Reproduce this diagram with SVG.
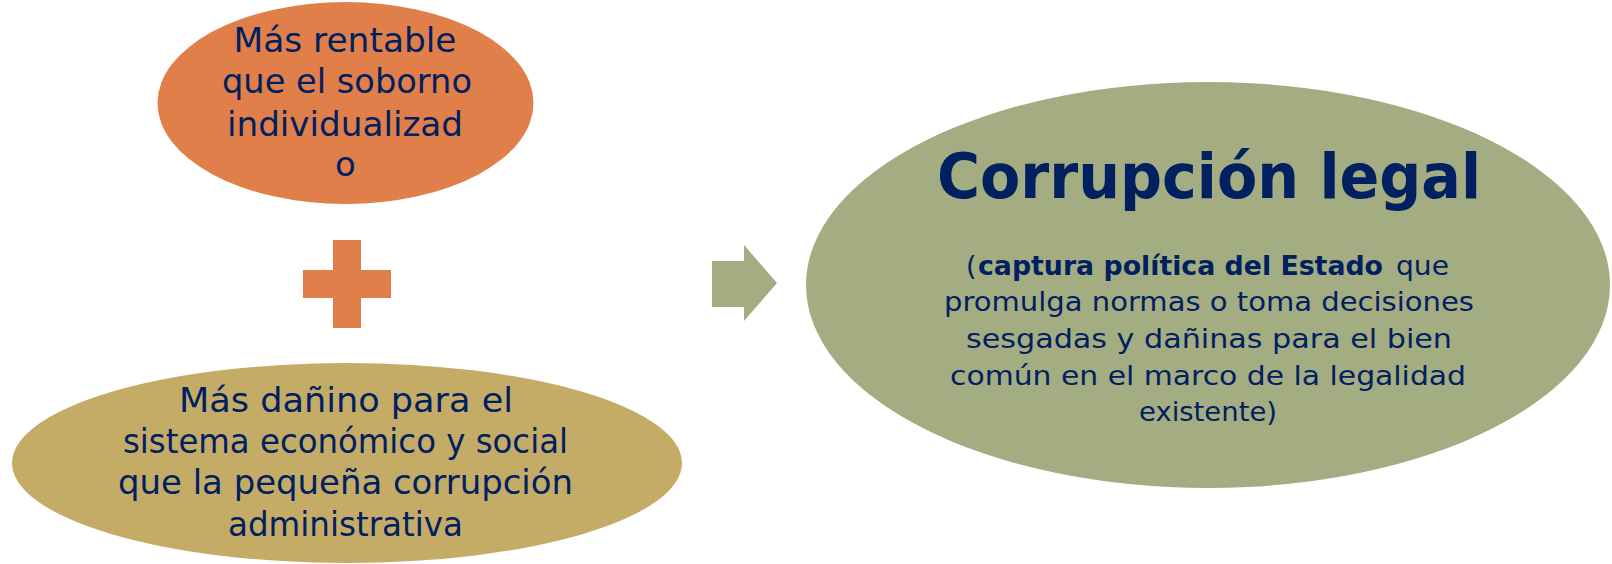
<svg xmlns="http://www.w3.org/2000/svg" width="1612" height="564" viewBox="0 0 1612 564">
  <style>
    .t { font-family: "DejaVu Sans", "Liberation Sans", sans-serif; fill: #002060; text-anchor: middle; }
    .st { text-anchor: start; }
    .s34 { font-size: 34px; }
    .s27 { font-size: 27px; }
    .b { font-weight: bold; }
  </style>
  <rect width="1612" height="564" fill="#ffffff"/>
  <g id="node-rentable">
    <ellipse cx="345.5" cy="103" rx="188" ry="101" fill="#E07F4A"/>
    <text class="t s34" x="345" y="52" textLength="223" lengthAdjust="spacingAndGlyphs">Más rentable</text>
    <text class="t s34" x="347" y="93" textLength="250" lengthAdjust="spacingAndGlyphs">que el soborno</text>
    <text class="t s34" x="345" y="136" textLength="236" lengthAdjust="spacingAndGlyphs">individualizad</text>
    <text class="t s34" x="345.5" y="176">o</text>
  </g>
  <g id="node-plus">
    <rect x="333" y="240" width="28" height="88" fill="#E07F4A"/>
    <rect x="303" y="270" width="88" height="28" fill="#E07F4A"/>
  </g>
  <g id="node-danino">
    <ellipse cx="347" cy="463" rx="335" ry="100" fill="#C4AC67"/>
    <text class="t s34" x="346" y="412" textLength="334" lengthAdjust="spacingAndGlyphs">Más dañino para el</text>
    <text class="t s34" x="345.5" y="453" textLength="445" lengthAdjust="spacingAndGlyphs">sistema económico y social</text>
    <text class="t s34" x="345.5" y="494" textLength="455" lengthAdjust="spacingAndGlyphs">que la pequeña corrupción</text>
    <text class="t s34" x="345.5" y="536" textLength="235" lengthAdjust="spacingAndGlyphs">administrativa</text>
  </g>
  <g id="connectors">
    <polygon points="712,261 744,261 744,245 777,283 744,321 744,307 712,307" fill="#A4AC82"/>
  </g>
  <g id="node-corrupcion">
    <ellipse cx="1208" cy="285" rx="402" ry="203" fill="#A4AC82"/>
    <text class="t b" x="1209" y="198" font-size="63" textLength="544" lengthAdjust="spacingAndGlyphs">Corrupción legal</text>
    <text class="t st s27" x="966" y="275">(</text>
    <text class="t st s27 b" x="978" y="275" textLength="405" lengthAdjust="spacingAndGlyphs">captura política del Estado</text>
    <text class="t st s27" x="1396" y="275" textLength="53" lengthAdjust="spacingAndGlyphs">que</text>
    <text class="t s27" x="1209" y="311" textLength="530" lengthAdjust="spacingAndGlyphs">promulga normas o toma decisiones</text>
    <text class="t s27" x="1209" y="348" textLength="486" lengthAdjust="spacingAndGlyphs">sesgadas y dañinas para el bien</text>
    <text class="t s27" x="1208" y="385" textLength="516" lengthAdjust="spacingAndGlyphs">común en el marco de la legalidad</text>
    <text class="t s27" x="1208" y="421" textLength="138" lengthAdjust="spacingAndGlyphs">existente)</text>
  </g>
</svg>
